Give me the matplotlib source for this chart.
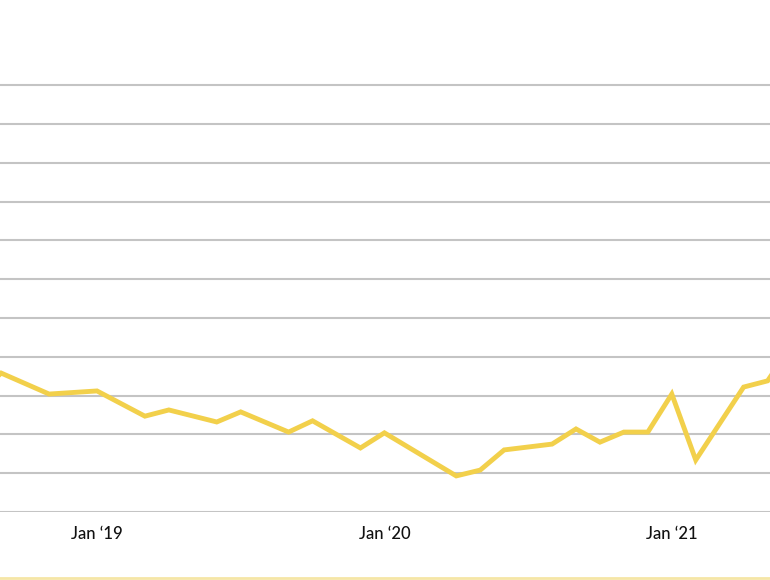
import matplotlib.pyplot as plt
import numpy as np

# months relative to Jan 2019
months = [-4.5, -4, -2, 0, 2, 3, 5, 6, 8, 9, 11, 12, 15, 16, 17, 19, 20, 21, 22, 23, 24, 25, 27, 28, 29]
values = [3.3, 3.58, 3.04, 3.12, 2.47, 2.63, 2.32, 2.58, 2.06, 2.35, 1.65, 2.04, 0.93, 1.08,
          1.60, 1.75, 2.14, 1.80, 2.06, 2.06, 3.04, 1.34, 3.22, 3.38, 4.3]
tick_pos = [0, 12, 24]
tick_labels = ["Jan \u201819", "Jan \u201820", "Jan \u201821"]

fig = plt.figure(figsize=(7.7, 5.8), dpi=100)
ax = fig.add_axes([0, 68/580, 1, 512/580])
ax.plot(months, values, color='#f2d04b', linewidth=3.5, solid_joinstyle='miter', zorder=3)
ax.set_xlim(-4.05, 28.1)
ax.set_ylim(0, 512/38.8)
ax.set_yticks(np.arange(0, 12))
ax.yaxis.grid(True, color='#c4c4c4', linewidth=1.5)
ax.tick_params(axis='y', left=False, labelleft=False)
ax.set_xticks(tick_pos)
ax.set_xticklabels(tick_labels, fontsize=12, family='Lato', fontweight='medium', color='#111111')
ax.tick_params(axis='x', length=0, pad=10)
for s in ax.spines.values():
    s.set_visible(False)

# thin yellow strip at bottom
fig.add_artist(plt.Line2D([0, 1], [2/580, 2/580], color='#f5e6a6', linewidth=2))

fig.savefig('out.png')
